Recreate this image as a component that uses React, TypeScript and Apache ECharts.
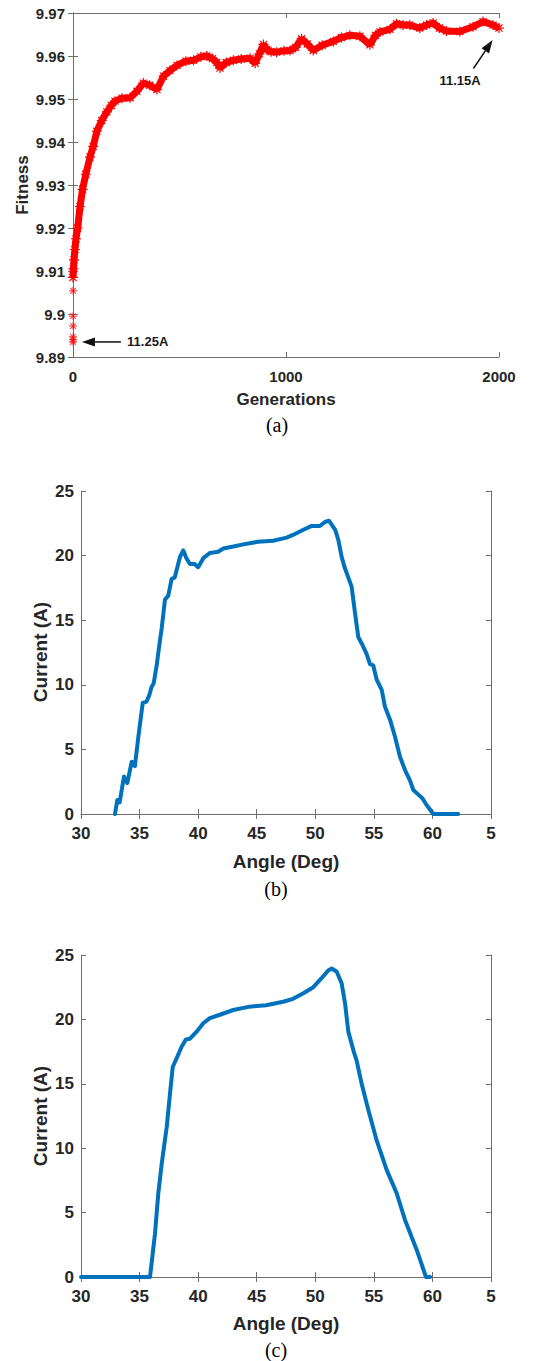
import React, { useEffect, useRef } from "react";
import * as echarts from "echarts";

// ---------- Panel (a): fitness vs generations ----------
const genX = [0, 2, 5, 9, 14, 22, 33, 45, 60, 80, 95, 112, 135, 159, 180, 197, 230, 268, 300, 330,
  360, 394, 425, 455, 488, 530, 566, 600, 628, 655, 675, 690, 720, 753, 790, 831, 855, 875, 894, 909,
  930, 956, 990, 1019, 1045, 1073, 1100, 1128, 1170, 1222, 1260, 1300, 1347, 1394, 1420, 1441, 1488, 1519, 1550, 1581,
  1628, 1660, 1691, 1720, 1753, 1816, 1878, 1925, 1972, 2000];
const fitY = [9.9085, 9.9105, 9.9126, 9.915, 9.9175, 9.92, 9.925, 9.929, 9.9325, 9.9365, 9.939, 9.9425, 9.945, 9.947, 9.9485, 9.9495, 9.9502, 9.9503, 9.9518, 9.9537,
  9.9532, 9.9522, 9.9553, 9.9566, 9.9578, 9.9588, 9.959, 9.9598, 9.96, 9.9594, 9.9585, 9.9572, 9.9585, 9.959, 9.9593, 9.9595, 9.9583, 9.9605, 9.9627, 9.9615,
  9.961, 9.9609, 9.9612, 9.9613, 9.962, 9.964, 9.9628, 9.9613, 9.9625, 9.9634, 9.9643, 9.9648, 9.9646, 9.9626, 9.9648, 9.9656, 9.9662, 9.9675, 9.9672, 9.9672,
  9.9665, 9.9672, 9.9677, 9.9665, 9.9658, 9.9657, 9.9668, 9.968, 9.9672, 9.9665];
const initGen = [0, 0, 0, 0, 0, 0];
const initFit = [9.9054, 9.8995, 9.8972, 9.8947, 9.894, 9.8935];

// ---------- Panel (b) ----------
const angleB = [32.9, 33.1, 33.3, 33.67, 33.95, 34.33, 34.6, 34.9, 35.27, 35.6,
  35.83, 36.03, 36.2, 36.46, 36.69, 36.89, 37.17, 37.45, 37.74, 38.0,
  38.45, 38.73, 39.0, 39.3, 39.7, 40.0, 40.44, 41.0, 41.7, 42.15,
  43.0, 43.86, 45.1, 46.4, 47.55, 48.1, 48.98, 49.7, 50.4, 50.83,
  51.17, 51.7, 51.97, 52.25, 52.5, 52.9, 53.1, 53.4, 53.67, 53.96,
  54.38, 54.67, 54.95, 55.24, 55.67, 55.95, 56.38, 56.8, 57.23, 57.66,
  58.08, 58.37, 58.8, 59.16, 59.5, 60.08, 62.2];
const currentB = [0, 1.08, 0.9, 2.9, 2.4, 4.05, 3.7, 6.0, 8.6, 8.7,
  9.2, 9.85, 10.1, 11.5, 13.1, 14.4, 16.6, 16.9, 18.2, 18.3,
  19.9, 20.4, 19.8, 19.35, 19.35, 19.1, 19.8, 20.2, 20.3, 20.55,
  20.7, 20.87, 21.07, 21.15, 21.39, 21.6, 22.0, 22.3, 22.3, 22.6,
  22.7, 22.0, 21.2, 19.9, 19.1, 18.1, 17.6, 15.5, 13.7, 13.2,
  12.4, 11.6, 11.5, 10.4, 9.6, 8.3, 7.3, 6.0, 4.43, 3.4,
  2.6, 1.86, 1.5, 1.2, 0.7, 0, 0];

// ---------- Panel (c) ----------
const angleC = [30, 35.89, 36.32, 36.6, 36.89, 37.32, 37.6, 37.83, 38.22, 38.6,
  38.96, 39.3, 39.87, 40.44, 41.0, 41.86, 43.0, 44.4, 45.8, 47.26,
  48.1, 48.98, 49.83, 50.54, 51.1, 51.4, 51.83, 52.25, 52.54, 52.82,
  53.25, 53.53, 53.96, 54.53, 55.24, 56.1, 56.95, 57.66, 58.66, 59.45, 59.8];
const currentC = [0, 0, 3.4, 6.5, 8.8, 11.67, 14.26, 16.3, 17.1, 17.9,
  18.45, 18.5, 19.05, 19.7, 20.1, 20.36, 20.73, 20.99, 21.1, 21.37,
  21.6, 22.03, 22.5, 23.2, 23.8, 23.95, 23.7, 22.8, 21.25, 19.05,
  17.6, 16.8, 15.0, 12.97, 10.6, 8.3, 6.5, 4.43, 2.1, 0, 0];

const titles = {
  fitness: "Fitness",
  generations: "Generations",
  current: "Current (A)",
  angle: "Angle (Deg)",
};
const captions = ["(a)", "(b)", "(c)"];
const annotations = [
  { label: "11.25A", tail: [225, 9.8935], tip: [42, 9.8935], text: [254, 9.8935], align: "left" },
  { label: "11.15A", tail: [1880, 9.9571], tip: [1970, 9.9637], text: [1817, 9.9542], align: "center" },
];

const FONT = "'Liberation Sans', Arial, sans-serif";
const SERIF = "'Liberation Serif', 'Times New Roman', serif";
const FRAME = "#6e6e6e";
const LABEL = "#262626";
const RED = "#ff0000";
const BLUE = "#0072BD";
const ASTERISK =
  "path://M4.4 0h1.2v10h-1.2z M0 4.4h10v1.2h-10z M1.04 1.9l0.85-0.85 7.07 7.07-0.85 0.85z M8.11 1.05l0.85 0.85-7.07 7.07-0.85-0.85z";

function axesFor(gi: number, xmin: number, xmax: number, xint: number, ymin: number, ymax: number, yint: number,
  fs: number, xfmt: (v: number) => string, yfmt: (v: number) => string, xMargin: number, yMargin: number) {
  const line = { show: true, lineStyle: { color: FRAME, width: 1 } };
  const tick = { show: true, inside: true, length: 5, lineStyle: { color: FRAME, width: 1 } };
  const lbl = { color: LABEL, fontWeight: "bold", fontSize: fs, fontFamily: FONT };
  const xs = [
    { type: "value", gridIndex: gi, position: "bottom", min: xmin, max: xmax, interval: xint,
      axisLine: line, axisTick: tick, splitLine: { show: false },
      axisLabel: { ...lbl, margin: xMargin, formatter: xfmt, showMinLabel: true, showMaxLabel: true } },
    { type: "value", gridIndex: gi, position: "top", min: xmin, max: xmax, interval: xint,
      axisLine: line, axisTick: tick, splitLine: { show: false }, axisLabel: { show: false } },
  ];
  const ys = [
    { type: "value", gridIndex: gi, position: "left", min: ymin, max: ymax, interval: yint,
      axisLine: line, axisTick: tick, splitLine: { show: false },
      axisLabel: { ...lbl, margin: yMargin, formatter: yfmt, showMinLabel: true, showMaxLabel: true } },
    { type: "value", gridIndex: gi, position: "right", min: ymin, max: ymax, interval: yint,
      axisLine: line, axisTick: tick, splitLine: { show: false }, axisLabel: { show: false } },
  ];
  return { xs, ys };
}

export default function App() {
  const ref = useRef<HTMLDivElement>(null);
  useEffect(() => {
    if (!ref.current) return;
    const chart = echarts.init(ref.current, null, { renderer: "svg" });

    const a = axesFor(0, 0, 2000, 1000, 9.89, 9.97, 0.01, 15,
      (v) => String(Math.round(v)), (v) => String(+v.toFixed(2)), 12, 8);
    const angFmt = (v: number) => (Math.round(v) === 65 ? "5" : String(Math.round(v)));
    const b = axesFor(1, 30, 65, 5, 0, 25, 5, 17, angFmt, (v) => String(Math.round(v)), 11, 7);
    const c = axesFor(2, 30, 65, 5, 0, 25, 5, 17, angFmt, (v) => String(Math.round(v)), 11, 7);

    const option: any = {
      animation: false,
      backgroundColor: "#ffffff",
      grid: [
        { left: 73, top: 13, width: 426, height: 344 },
        { left: 81, top: 491, width: 410, height: 323 },
        { left: 81, top: 955, width: 410, height: 322 },
      ],
      xAxis: [...a.xs, ...b.xs, ...c.xs],
      yAxis: [...a.ys, ...b.ys, ...c.ys],
      series: [
        {
          type: "line", xAxisIndex: 0, yAxisIndex: 0,
          data: genX.map((g, i) => [g, fitY[i]]),
          lineStyle: { color: RED, width: 7 },
          symbol: ASTERISK, symbolSize: 10, showSymbol: true,
          itemStyle: { color: RED },
          z: 3,
        },
        {
          type: "scatter", xAxisIndex: 0, yAxisIndex: 0,
          data: initGen.map((g, i) => [g, initFit[i]]),
          symbol: ASTERISK, symbolSize: 8,
          itemStyle: { color: RED },
          z: 3,
        },
        {
          type: "line", xAxisIndex: 2, yAxisIndex: 2,
          data: angleB.map((x, i) => [x, currentB[i]]),
          showSymbol: false, lineStyle: { color: BLUE, width: 4, join: "round", cap: "round" },
        },
        {
          type: "line", xAxisIndex: 4, yAxisIndex: 4,
          data: angleC.map((x, i) => [x, currentC[i]]),
          showSymbol: false, lineStyle: { color: BLUE, width: 4, join: "round", cap: "round" },
        },
      ],
    };
    chart.setOption(option);

    const txt = (text: string, x: number, y: number, size: number, opts: any = {}) => ({
      type: "text", x, y, rotation: opts.rotation || 0, silent: true,
      style: {
        text, fill: opts.fill || LABEL,
        font: `${opts.weight || "bold"} ${size}px ${opts.family || FONT}`,
        textAlign: opts.align || "center", textVerticalAlign: "middle", verticalAlign: "middle",
      },
    });

    const graphics: any[] = [
      txt(titles.fitness, 22, 185, 17, { rotation: Math.PI / 2 }),
      txt(titles.generations, 286, 399, 17),
      txt(captions[0], 277, 425, 20, { weight: "normal", family: SERIF, fill: "#000" }),
      txt(titles.current, 40, 652, 19, { rotation: Math.PI / 2 }),
      txt(titles.angle, 286, 861, 19),
      txt(captions[1], 276, 889, 20, { weight: "normal", family: SERIF, fill: "#000" }),
      txt(titles.current, 40, 1116, 19, { rotation: Math.PI / 2 }),
      txt(titles.angle, 286, 1323, 19),
      txt(captions[2], 276, 1350, 20, { weight: "normal", family: SERIF, fill: "#000" }),
    ];

    annotations.forEach((an) => {
      const tail = chart.convertToPixel({ gridIndex: 0 } as any, an.tail) as number[];
      const tip = chart.convertToPixel({ gridIndex: 0 } as any, an.tip) as number[];
      const tp = chart.convertToPixel({ gridIndex: 0 } as any, an.text) as number[];
      const dx = tip[0] - tail[0], dy = tip[1] - tail[1];
      const len = Math.sqrt(dx * dx + dy * dy);
      const ux = dx / len, uy = dy / len;
      const hl = 13, hw = 4.5;
      const bx = tip[0] - ux * hl, by = tip[1] - uy * hl;
      graphics.push({
        type: "line", silent: true,
        shape: { x1: tail[0], y1: tail[1], x2: bx, y2: by },
        style: { stroke: "#111", lineWidth: 1.5 },
      });
      graphics.push({
        type: "polygon", silent: true,
        shape: { points: [[tip[0], tip[1]], [bx - uy * hw, by + ux * hw], [bx + uy * hw, by - ux * hw]] },
        style: { fill: "#111" },
      });
      graphics.push(txt(an.label, tp[0], tp[1], 13, { align: an.align, fill: "#1a1a1a" }));
    });

    chart.setOption({ graphic: graphics });
    return () => chart.dispose();
  }, []);

  return (
    <div
      ref={ref}
      style={{ position: "absolute", left: 0, top: 0, width: 542, height: 1361, background: "#fff" }}
    />
  );
}
